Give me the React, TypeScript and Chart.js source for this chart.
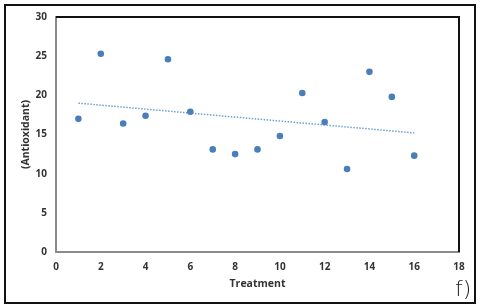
import React, { useEffect, useRef } from "react";
import { Chart, registerables } from "chart.js";

Chart.register(...registerables);

const treatments = [1, 2, 3, 4, 5, 6, 7, 8, 9, 10, 11, 12, 13, 14, 15, 16];
const antioxidant = [17.0, 25.3, 16.4, 17.4, 24.6, 17.9, 13.1, 12.5, 13.1, 14.8, 20.3, 16.6, 10.6, 23.0, 19.8, 12.3];
const trendX = [1, 16];
const trendY = [19.0, 15.2];
const xTicks = [0, 2, 4, 6, 8, 10, 12, 14, 16, 18];
const yTicks = [0, 5, 10, 15, 20, 25, 30];

const framePlugin = {
  id: "frame",
  afterDraw(chart: any) {
    const ctx = chart.ctx;
    const a = chart.chartArea;
    ctx.save();
    // plot top & right border
    ctx.strokeStyle = "#111";
    ctx.lineWidth = 2;
    ctx.beginPath();
    ctx.moveTo(a.left, a.top);
    ctx.lineTo(a.right, a.top);
    ctx.lineTo(a.right, a.bottom);
    ctx.stroke();
    // outer frame
    ctx.lineWidth = 2;
    ctx.strokeStyle = "#111";
    ctx.strokeRect(5, 5, 470, 298);
    // panel label
    ctx.fillStyle = "#222";
    ctx.font = "300 22px 'DejaVu Sans', sans-serif";
    ctx.textAlign = "left";
    ctx.textBaseline = "alphabetic";
    ctx.fillText("f)", 455, 296);
    ctx.restore();
  },
};

export default function App() {
  const ref = useRef<HTMLCanvasElement | null>(null);
  useEffect(() => {
    if (!ref.current) return;
    const tickFont = { family: "'Open Sans', sans-serif", size: 10, weight: "bold" as const };
    const chart = new Chart(ref.current, {
      type: "scatter",
      data: {
        datasets: [
          {
            label: "Antioxidant",
            data: treatments.map((x, i) => ({ x, y: antioxidant[i] })),
            backgroundColor: "#4a7ebb",
            borderColor: "#4a7ebb",
            pointRadius: 3.3,
            pointBorderWidth: 0,
            order: 1,
          },
          {
            label: "Trend",
            type: "line",
            data: trendX.map((x, i) => ({ x, y: trendY[i] })),
            borderColor: "#6d9fd2",
            borderWidth: 1.5,
            borderDash: [1.5, 1.5],
            pointRadius: 0,
            fill: false,
            order: 2,
          } as any,
        ],
      },
      options: {
        animation: false,
        responsive: false,
        maintainAspectRatio: false,
        layout: { padding: { left: 0, top: 17, right: 21, bottom: 0 } },
        plugins: { legend: { display: false }, tooltip: { enabled: false } },
        scales: {
          x: {
            type: "linear",
            min: 0,
            max: 18,
            afterBuildTicks: (s: any) => {
              s.ticks = xTicks.map((v) => ({ value: v }));
            },
            afterFit: (s: any) => {
              s.height = 56;
            },
            grid: { display: false, drawTicks: false },
            border: { display: true, color: "#8a8a8a", width: 2 },
            ticks: { font: tickFont, color: "#333", padding: 9, maxRotation: 0 },
            title: {
              display: true,
              text: "Treatment",
              font: { family: "'Open Sans', sans-serif", size: 10.5, weight: "bold" },
              color: "#333",
              padding: { top: 0, bottom: 18 },
            },
          },
          y: {
            type: "linear",
            min: 0,
            max: 30,
            afterBuildTicks: (s: any) => {
              s.ticks = yTicks.map((v) => ({ value: v }));
            },
            afterFit: (s: any) => {
              s.width = 56;
            },
            grid: { display: false, drawTicks: false },
            border: { display: true, color: "#8a8a8a", width: 2 },
            ticks: { font: tickFont, color: "#333", padding: 9 },
            title: {
              display: true,
              text: "(Antioxidant)",
              font: { family: "'Open Sans', sans-serif", size: 10.5, weight: "bold" },
              color: "#333",
              padding: { top: 20, bottom: 0 },
            },
          },
        },
      },
      plugins: [framePlugin],
    });
    return () => chart.destroy();
  }, []);
  return (
    <div style={{ position: "fixed", left: 0, top: 0, width: 480, height: 308, background: "#fff" }}>
      <canvas ref={ref} width={480} height={308} style={{ display: "block" }} />
    </div>
  );
}
